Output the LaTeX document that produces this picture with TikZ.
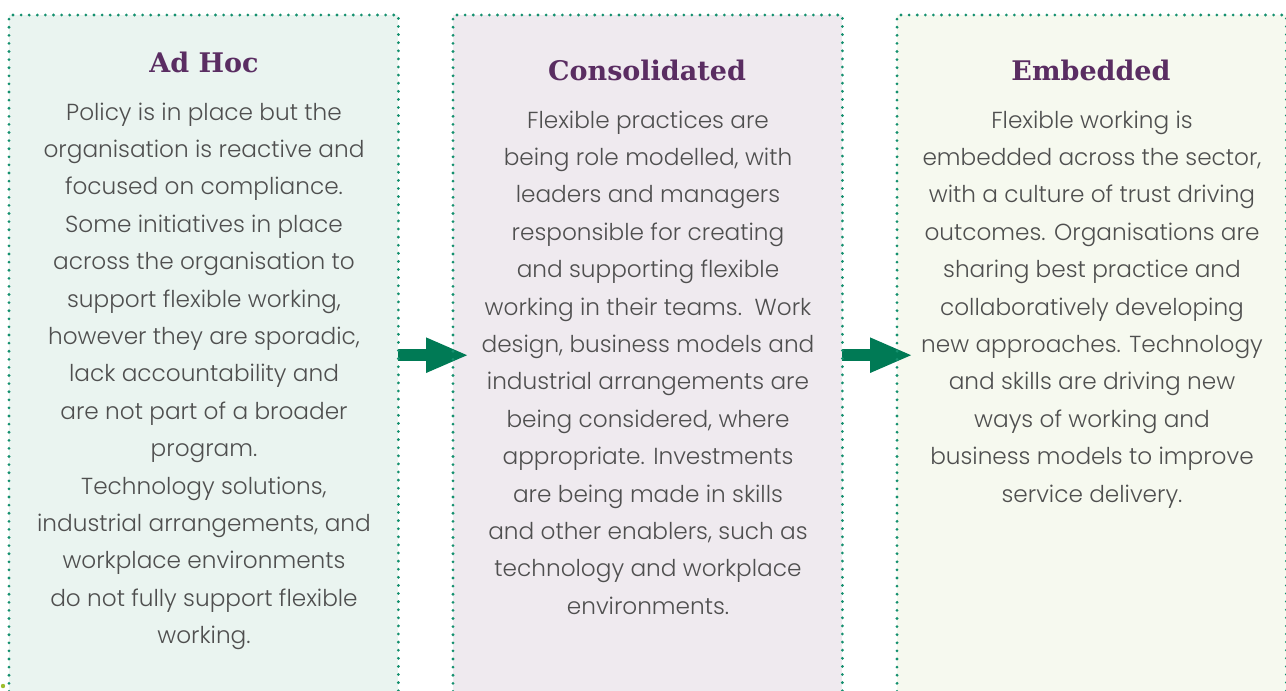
\documentclass[tikz,border=0pt]{standalone}
\usepackage{fontspec}
\setmainfont{Poppins}[UprightFont=* Light]
\newfontfamily\headfont{DejaVu Serif}
\usetikzlibrary{arrows.meta}
\definecolor{dotgreen}{HTML}{14906E}
\definecolor{arrowgreen}{HTML}{007A55}
\definecolor{headpurple}{HTML}{5A2D62}
\definecolor{bodygray}{HTML}{4F4F4F}
\definecolor{fillA}{HTML}{EAF4F0}
\definecolor{fillB}{HTML}{EFEAEF}
\definecolor{fillC}{HTML}{F6F9EF}
\definecolor{speck}{HTML}{9DBE2E}
\tikzset{
  stagebox/.style={draw=none, inner sep=0pt, minimum width=389pt, minimum height=676pt, anchor=north west},
  dotborder/.style={draw=dotgreen, line width=3.1pt, line cap=round, dash pattern=on 0pt off 8.1pt},
  stagetitle/.style={font=\headfont\bfseries\fontsize{27}{32}\selectfont, text=headpurple, anchor=base, inner sep=0pt},
  stagetext/.style={font=\fontsize{23.2}{37.4}\selectfont, text=bodygray, align=center, anchor=north, inner sep=0pt},
  stepArrow/.style={draw=arrowgreen, line width=12pt, -{Triangle[length=43pt,width=32pt]}, shorten >=-16pt}
}
\begin{document}
\begin{tikzpicture}[x=1pt,y=-1pt]
\useasboundingbox (0,0) rectangle (1286,691);
% stage panels
\node[stagebox, fill=fillA] (adhoc) at (9,15) {};
\node[stagebox, fill=fillB] (consol) at (453,15) {};
\node[stagebox, fill=fillC] (embed) at (897,15) {};
% arrows between stages
\draw[stepArrow] ([yshift=-2pt]adhoc.east) -- ([yshift=-2pt]consol.west);
\draw[stepArrow] ([yshift=-2pt]consol.east) -- ([yshift=-2pt]embed.west);
% dotted panel borders, open at the bottom
\foreach \b in {adhoc,consol,embed}
  \draw[dotborder] (\b.south west) -- (\b.north west) -- (\b.north east) -- (\b.south east);
\fill[speck] (3,686) circle (2.2pt);
% titles
\node[stagetitle] (t1) at (204,72) {Ad Hoc};
\node[stagetitle] (t2) at (647,80) {Consolidated};
\node[stagetitle] (t3) at (1091,80) {Embedded};
% descriptions
\node[stagetext] (d1) at (204,102.5) {Policy is in place but the\\
organisation is reactive and\\
focused on compliance.\\
Some initiatives in place\\
across the organisation to\\
support flexible working,\\
however they are sporadic,\\
lack accountability and\\
are not part of a broader\\
program.\\
Technology solutions,\\
industrial arrangements, and\\
workplace environments\\
do not fully support flexible\\
working.};
\node[stagetext] (d2) at (648,110.5) {Flexible practices are\\
being role modelled, with\\
leaders and managers\\
responsible for creating\\
and supporting flexible\\
working in their teams.\ \ Work\\
design, business models and\\
industrial arrangements are\\
being considered, where\\
appropriate. Investments\\
are being made in skills\\
and other enablers, such as\\
technology and workplace\\
environments.};
\node[stagetext] (d3) at (1092,110.5) {Flexible working is\\
embedded across the sector,\\
with a culture of trust driving\\
outcomes. Organisations are\\
sharing best practice and\\
collaboratively developing\\
new approaches. Technology\\
and skills are driving new\\
ways of working and\\
business models to improve\\
service delivery.};
\end{tikzpicture}
\end{document}
